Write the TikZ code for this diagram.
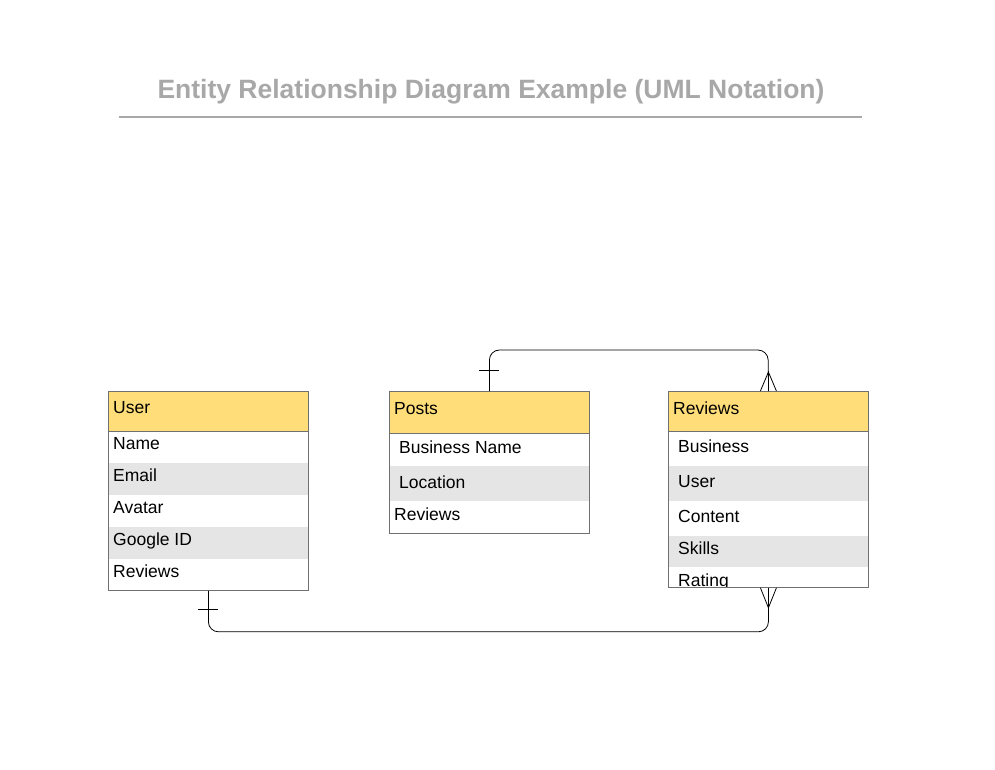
\documentclass[tikz,border=0pt]{standalone}
\usepackage{fontspec}
\setmainfont{Liberation Sans}
\usetikzlibrary{calc}
\definecolor{hdr}{HTML}{FFDE7A}
\definecolor{rowg}{HTML}{E5E5E5}
\definecolor{framec}{HTML}{707070}
\definecolor{titlec}{HTML}{A8A8A8}
\tikzset{
  hdrbox/.style={draw=framec, fill=hdr, line width=0.8pt, anchor=north west, minimum width=200pt, inner sep=0pt},
  framebox/.style={draw=framec, line width=0.8pt, anchor=north west, minimum width=200pt, inner sep=0pt},
  grayrow/.style={fill=rowg, draw=none, anchor=north west, minimum width=200pt, inner sep=0pt},
  field/.style={anchor=west, inner sep=0pt, text height=14.6pt, text depth=3.6pt, font=\fontsize{17.5}{20}\selectfont},
  link/.style={draw=black, line width=0.8pt, rounded corners=10pt},
  endmark/.style={draw=black, line width=0.8pt}
}
\begin{document}
\begin{tikzpicture}[x=1pt,y=-1pt]
\useasboundingbox[fill=white] (0,0) rectangle (995,769);
% title
\node[font=\bfseries\fontsize{26.5}{30}\selectfont, text=titlec, inner sep=0pt, text height=25pt, text depth=5.5pt] (title) at (491,89) {Entity Relationship Diagram Example (UML Notation)};
\draw[titlec, line width=2pt] (119,117) coordinate (tl) -- (862,117) coordinate (tr);

% ---- User ----
\node[grayrow, minimum height=32pt] (ugr1) at (108,463) {};
\node[grayrow, minimum height=32pt] (ugr2) at (108,527) {};
\node[hdrbox, minimum height=40pt] (userhd) at (108,391) {};
\node[framebox, minimum height=199pt] (user) at (108,391) {};
\node[field] (u0) at (113,408) {User};
\node[field] (u1) at (113,444) {Name};
\node[field] (u2) at (113,476) {Email};
\node[field] (u3) at (113,508) {Avatar};
\node[field] (u4) at (113,540) {Google ID};
\node[field] (u5) at (113,572) {Reviews};

% ---- Posts ----
\node[grayrow, minimum height=35pt] (pgr1) at (389,466) {};
\node[hdrbox, minimum height=42pt] (postshd) at (389,391) {};
\node[framebox, minimum height=142pt] (posts) at (389,391) {};
\node[field] (p0) at (394,409) {Posts};
\node[field] (p1) at (399,448) {Business Name};
\node[field] (p2) at (399,483) {Location};
\node[field] (p3) at (394,515) {Reviews};

% ---- Reviews ----
\node[grayrow, minimum height=35pt] (rgr1) at (668,466) {};
\node[grayrow, minimum height=31pt] (rgr2) at (668,536) {};
\node[hdrbox, minimum height=40pt] (reviewshd) at (668,391) {};
\begin{scope}
\clip (668,391) rectangle (868,587);
\node[field] (r5) at (678,581) {Rating};
\end{scope}
\node[framebox, minimum height=196pt] (reviews) at (668,391) {};
\node[field] (r0) at (673,409) {Reviews};
\node[field] (r1) at (678,447) {Business};
\node[field] (r2) at (678,482) {User};
\node[field] (r3) at (678,517) {Content};
\node[field] (r4) at (678,549) {Skills};

% ---- connectors ----
\coordinate (topbend) at (768,350);
\draw[link] (posts.north) |- (topbend) -- ($(reviews.north)+(0,-19)$) -- (reviews.north);
\draw[link] (user.south) |- ($(reviews.south)+(0,44)$) -- (reviews.south);
% one marks
\draw[endmark] ($(posts.north)+(-10,-21)$) -- ($(posts.north)+(10,-21)$);
\draw[endmark] ($(user.south)+(-10,19)$) -- ($(user.south)+(10,19)$);
% many marks
\draw[endmark] ($(reviews.north)+(-8,0)$) -- ($(reviews.north)+(0,-19)$) -- ($(reviews.north)+(8,0)$);
\draw[endmark] ($(reviews.south)+(-8,0)$) -- ($(reviews.south)+(0,20)$) -- ($(reviews.south)+(8,0)$);
\end{tikzpicture}
\end{document}
